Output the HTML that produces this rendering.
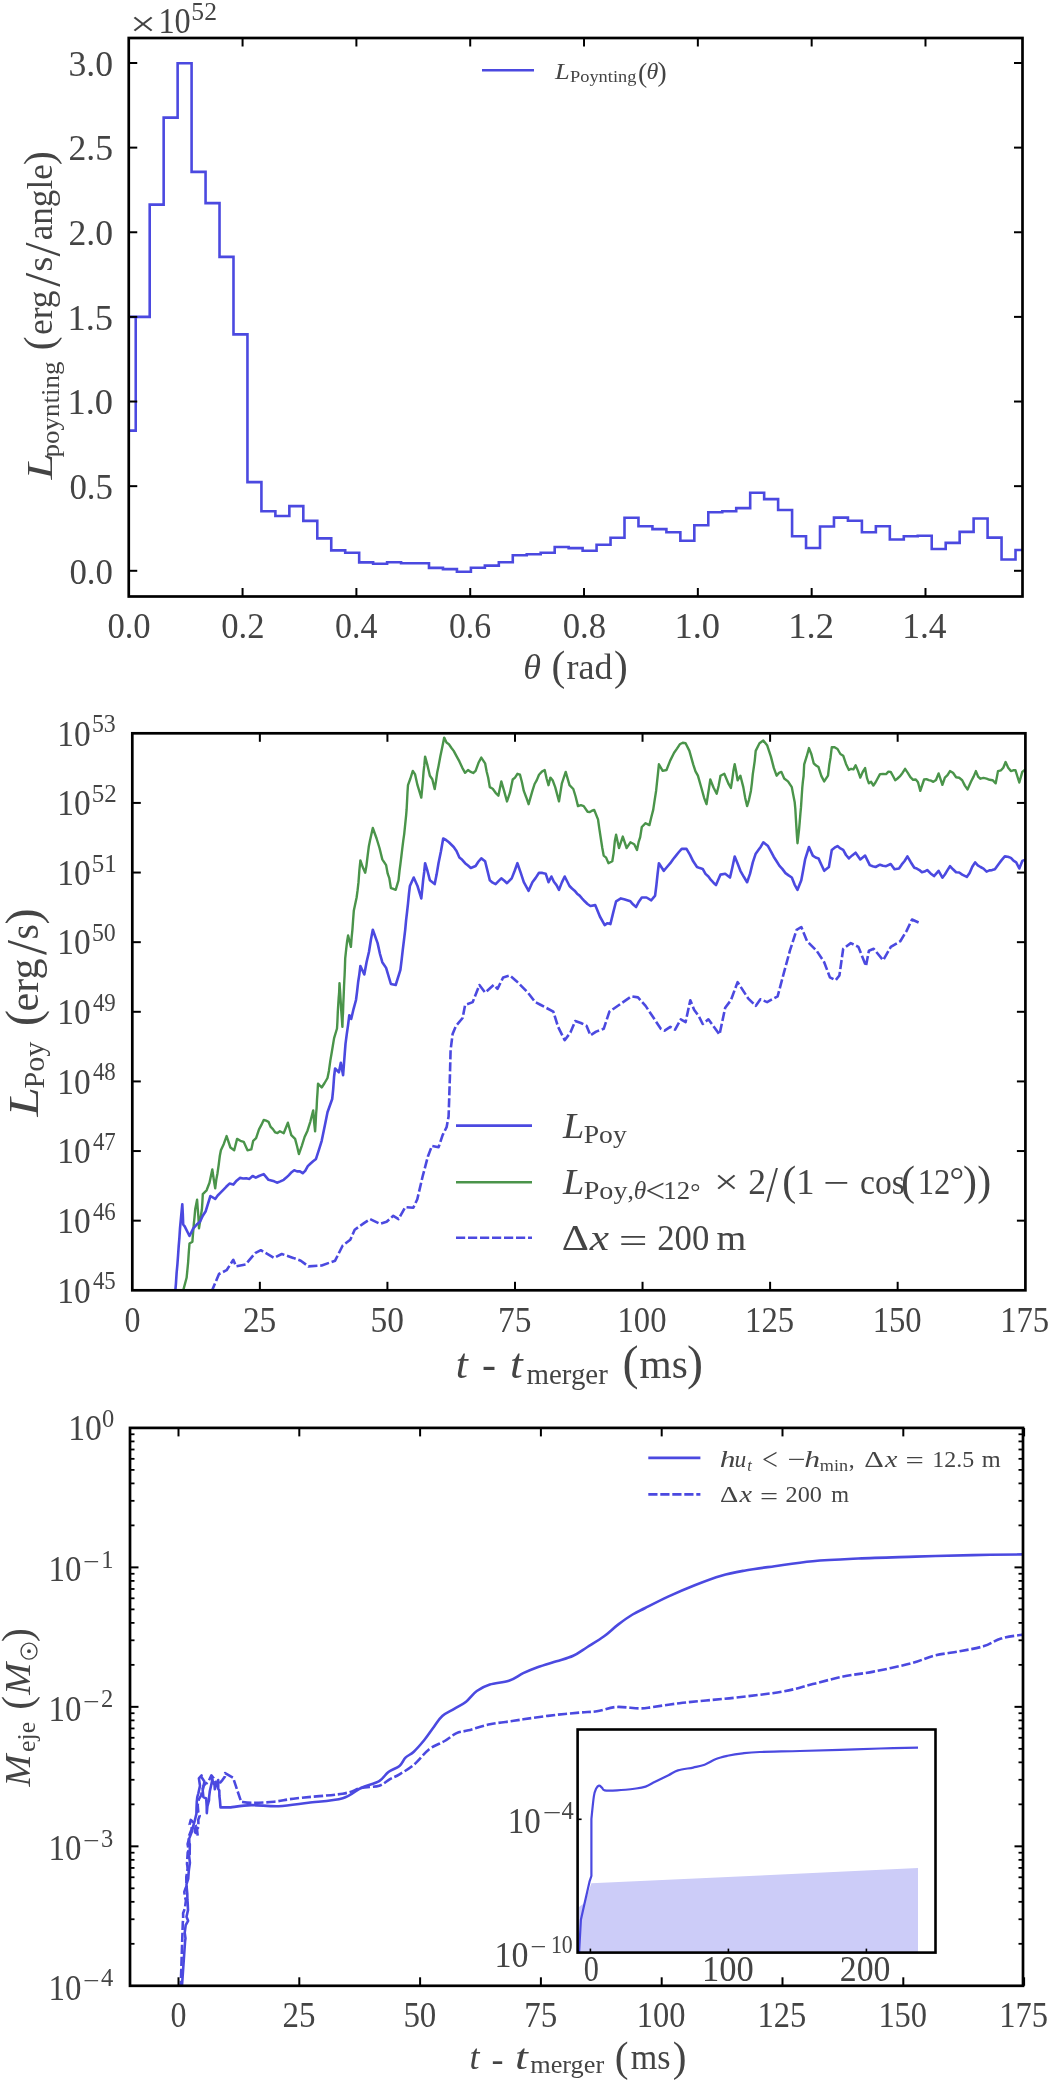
<!DOCTYPE html>
<html><head><meta charset="utf-8"><style>
html,body{margin:0;padding:0;background:#fff;overflow:hidden;width:1051px;height:2082px;}
svg{display:block;font-family:"Liberation Serif", serif;filter:blur(0.5px);}
</style></head><body>
<svg width="1051" height="2082" viewBox="0 0 1051 2082">
<rect width="1051" height="2082" fill="#fff"/>
<clipPath id="c1"><rect x="128.75" y="38.0" width="893.75" height="558.5"/></clipPath>
<path d="M126.75,430.6 H135.73 V316.9 H149.70 V204.6 H163.66 V117.6 H177.63 V63.2 H191.59 V171.9 H205.56 V203.1 H219.52 V256.9 H233.49 V334.4 H247.45 V482.1 H261.42 V511.2 H275.38 V516.0 H289.35 V506.1 H303.31 V520.9 H317.28 V538.4 H331.24 V550.4 H345.21 V552.7 H359.17 V562.4 H373.13 V563.7 H387.10 V562.2 H401.06 V563.2 H415.03 V563.3 H428.99 V567.9 H442.96 V569.1 H456.92 V571.7 H470.89 V567.7 H484.85 V565.6 H498.82 V562.2 H512.78 V555.2 H526.75 V554.2 H540.71 V552.7 H554.68 V547.0 H568.64 V548.1 H582.61 V550.8 H596.57 V544.7 H610.54 V537.7 H624.50 V517.7 H638.47 V526.2 H652.43 V529.1 H666.40 V532.3 H680.36 V540.8 H694.33 V525.2 H708.29 V512.2 H722.26 V511.3 H736.22 V508.1 H750.19 V492.8 H764.15 V499.1 H778.12 V510.0 H792.08 V536.2 H806.04 V548.0 H820.01 V526.5 H833.97 V517.6 H847.94 V520.8 H861.90 V532.2 H875.87 V526.2 H889.83 V539.5 H903.80 V536.2 H917.76 V535.7 H931.73 V549.0 H945.69 V542.9 H959.66 V531.9 H973.62 V518.5 H987.59 V537.6 H1001.55 V559.5 H1015.52 V550.0 H1024.50 M126.75,316.9 H135.73" fill="none" stroke="#4b49e0" stroke-width="2.6" clip-path="url(#c1)"/>
<rect x="128.75" y="38.00" width="893.75" height="558.50" fill="none" stroke="#000" stroke-width="2.7"/>
<line x1="128.75" y1="570.80" x2="137.25" y2="570.80" stroke="#000" stroke-width="2.0"/>
<line x1="1014.00" y1="570.80" x2="1022.50" y2="570.80" stroke="#000" stroke-width="2.0"/>
<line x1="128.75" y1="486.16" x2="137.25" y2="486.16" stroke="#000" stroke-width="2.0"/>
<line x1="1014.00" y1="486.16" x2="1022.50" y2="486.16" stroke="#000" stroke-width="2.0"/>
<line x1="128.75" y1="401.53" x2="137.25" y2="401.53" stroke="#000" stroke-width="2.0"/>
<line x1="1014.00" y1="401.53" x2="1022.50" y2="401.53" stroke="#000" stroke-width="2.0"/>
<line x1="128.75" y1="316.89" x2="137.25" y2="316.89" stroke="#000" stroke-width="2.0"/>
<line x1="1014.00" y1="316.89" x2="1022.50" y2="316.89" stroke="#000" stroke-width="2.0"/>
<line x1="128.75" y1="232.26" x2="137.25" y2="232.26" stroke="#000" stroke-width="2.0"/>
<line x1="1014.00" y1="232.26" x2="1022.50" y2="232.26" stroke="#000" stroke-width="2.0"/>
<line x1="128.75" y1="147.62" x2="137.25" y2="147.62" stroke="#000" stroke-width="2.0"/>
<line x1="1014.00" y1="147.62" x2="1022.50" y2="147.62" stroke="#000" stroke-width="2.0"/>
<line x1="128.75" y1="62.99" x2="137.25" y2="62.99" stroke="#000" stroke-width="2.0"/>
<line x1="1014.00" y1="62.99" x2="1022.50" y2="62.99" stroke="#000" stroke-width="2.0"/>
<line x1="242.57" y1="596.50" x2="242.57" y2="588.00" stroke="#000" stroke-width="2.0"/>
<line x1="242.57" y1="38.00" x2="242.57" y2="46.50" stroke="#000" stroke-width="2.0"/>
<line x1="356.39" y1="596.50" x2="356.39" y2="588.00" stroke="#000" stroke-width="2.0"/>
<line x1="356.39" y1="38.00" x2="356.39" y2="46.50" stroke="#000" stroke-width="2.0"/>
<line x1="470.21" y1="596.50" x2="470.21" y2="588.00" stroke="#000" stroke-width="2.0"/>
<line x1="470.21" y1="38.00" x2="470.21" y2="46.50" stroke="#000" stroke-width="2.0"/>
<line x1="584.03" y1="596.50" x2="584.03" y2="588.00" stroke="#000" stroke-width="2.0"/>
<line x1="584.03" y1="38.00" x2="584.03" y2="46.50" stroke="#000" stroke-width="2.0"/>
<line x1="697.85" y1="596.50" x2="697.85" y2="588.00" stroke="#000" stroke-width="2.0"/>
<line x1="697.85" y1="38.00" x2="697.85" y2="46.50" stroke="#000" stroke-width="2.0"/>
<line x1="811.67" y1="596.50" x2="811.67" y2="588.00" stroke="#000" stroke-width="2.0"/>
<line x1="811.67" y1="38.00" x2="811.67" y2="46.50" stroke="#000" stroke-width="2.0"/>
<line x1="925.49" y1="596.50" x2="925.49" y2="588.00" stroke="#000" stroke-width="2.0"/>
<line x1="925.49" y1="38.00" x2="925.49" y2="46.50" stroke="#000" stroke-width="2.0"/>
<line x1="482" y1="70.3" x2="534" y2="70.3" stroke="#4b49e0" stroke-width="2.6"/>
<clipPath id="c2"><rect x="132.3" y="733.3" width="893.1000000000001" height="557.0"/></clipPath>
<path d="M182.8,1292.0 L186.6,1277.8 L187.3,1270.9 L188.1,1262.6 L188.8,1252.2 L189.5,1243.6 L192.4,1241.7 L193.1,1232.6 L193.8,1224.1 L194.5,1217.4 L195.2,1209.3 L197.1,1199.8 L197.7,1208.0 L198.4,1217.0 L199.0,1228.4 L200.4,1219.1 L201.9,1209.3 L202.4,1201.9 L202.8,1194.1 L206.6,1190.3 L209.5,1182.7 L212.3,1169.4 L213.8,1179.6 L215.2,1188.4 L216.3,1179.6 L217.5,1173.2 L218.6,1165.5 L219.8,1156.0 L220.9,1150.3 L223.8,1143.9 L226.6,1136.1 L230.4,1147.5 L234.2,1150.3 L237.1,1138.9 L240.4,1140.8 L243.7,1141.8 L247.5,1150.3 L251.3,1149.4 L253.2,1140.8 L256.1,1138.2 L259.0,1129.4 L261.4,1124.9 L263.7,1119.9 L266.1,1120.7 L268.5,1121.8 L270.7,1126.9 L272.9,1129.1 L275.1,1132.3 L277.5,1133.0 L279.9,1131.3 L283.7,1133.2 L287.9,1122.7 L291.3,1135.1 L295.1,1138.9 L297.0,1146.0 L298.9,1154.1 L301.8,1145.8 L304.6,1137.0 L307.5,1130.7 L310.3,1121.8 L313.2,1110.4 L314.1,1121.8 L315.1,1131.3 L315.6,1123.5 L316.1,1114.0 L316.6,1108.1 L317.0,1099.7 L317.5,1092.6 L318.0,1083.7 L321.7,1087.5 L324.6,1083.0 L327.5,1078.0 L328.9,1070.9 L330.3,1060.9 L331.6,1053.2 L332.8,1046.0 L334.1,1038.1 L337.0,1028.5 L337.4,1021.8 L337.8,1012.0 L338.2,1005.3 L338.7,997.6 L339.1,993.2 L339.5,983.1 L340.1,991.7 L340.7,1001.5 L341.2,1010.2 L341.8,1017.8 L342.4,1026.9 L342.7,1017.3 L343.0,1012.9 L343.3,1003.5 L343.6,997.4 L344.0,987.1 L344.3,980.7 L344.6,975.3 L344.9,967.9 L345.2,958.4 L346.2,949.1 L347.1,941.4 L348.1,935.5 L350.9,946.9 L351.6,937.8 L352.4,929.8 L353.1,920.0 L353.8,910.8 L356.6,897.5 L357.6,890.2 L358.5,882.2 L359.4,870.0 L360.4,860.4 L362.8,867.3 L365.2,872.7 L366.4,866.1 L367.6,856.0 L368.8,846.6 L370.0,840.4 L372.8,828.0 L376.6,838.5 L379.5,848.0 L382.3,859.4 L386.1,865.1 L387.7,873.7 L389.3,878.1 L390.9,888.0 L393.3,888.8 L395.7,889.8 L398.5,880.3 L399.5,871.0 L400.4,864.2 L401.4,856.0 L402.3,848.4 L403.3,840.4 L404.2,834.1 L405.2,824.4 L406.1,815.6 L406.6,809.7 L407.1,800.2 L407.5,792.2 L408.0,785.2 L410.4,778.5 L412.8,770.9 L415.1,774.4 L417.5,785.2 L421.3,797.6 L422.1,789.3 L422.8,781.4 L423.6,771.4 L424.3,765.4 L425.1,756.6 L427.5,765.4 L429.9,775.7 L432.3,779.2 L434.7,789.0 L436.0,781.1 L437.2,772.5 L438.5,766.2 L440.4,756.0 L442.3,746.9 L444.2,737.6 L446.5,742.6 L448.9,744.3 L451.3,747.7 L453.7,750.9 L456.5,756.1 L459.4,761.4 L462.2,767.6 L465.1,772.8 L468.0,770.0 L470.8,771.9 L473.2,773.0 L475.6,770.9 L478.5,762.8 L481.3,757.6 L485.1,763.3 L486.7,771.8 L488.2,777.7 L489.8,787.1 L492.7,788.7 L495.6,792.8 L498.4,795.7 L501.3,781.4 L504.1,790.9 L507.0,801.4 L509.9,792.9 L512.7,779.5 L515.0,777.6 L517.4,773.8 L520.0,774.7 L521.9,782.0 L523.8,790.9 L526.2,797.2 L528.6,804.2 L532.4,790.9 L534.6,784.0 L536.8,780.1 L539.0,774.7 L541.9,771.6 L544.7,770.0 L546.6,778.5 L548.5,785.2 L550.4,777.6 L552.8,780.6 L555.2,787.1 L559.0,801.4 L560.5,791.9 L561.9,783.3 L565.7,771.9 L569.5,785.2 L573.3,789.0 L575.6,796.5 L578.0,806.1 L580.9,805.2 L583.7,806.1 L587.6,811.8 L589.8,812.1 L592.0,810.7 L594.2,809.9 L598.0,819.4 L599.4,829.2 L600.9,839.0 L602.3,848.0 L603.7,855.6 L606.1,857.6 L608.5,863.2 L612.3,861.3 L613.6,853.1 L614.8,841.3 L616.1,834.7 L619.0,848.0 L622.8,836.6 L626.6,848.0 L630.4,842.3 L634.2,844.2 L637.0,849.9 L638.6,842.2 L640.2,837.1 L641.8,827.0 L645.6,823.2 L649.4,825.1 L651.3,817.2 L653.2,809.9 L654.7,799.9 L656.1,790.9 L657.0,782.3 L658.0,773.2 L658.9,764.3 L662.7,770.9 L666.5,770.0 L670.3,760.4 L674.1,752.8 L677.0,748.6 L679.8,744.3 L682.7,742.8 L685.6,743.3 L689.4,750.9 L693.2,764.3 L695.5,771.4 L697.9,775.7 L701.7,789.0 L704.1,797.8 L706.5,804.2 L707.8,795.7 L709.0,788.1 L710.3,779.5 L713.5,787.5 L716.7,793.7 L718.6,786.0 L720.5,775.7 L724.3,773.8 L726.5,779.0 L728.7,784.2 L730.9,788.0 L732.2,779.8 L733.4,770.8 L734.7,764.3 L736.2,771.7 L737.6,780.4 L740.4,775.7 L743.3,787.1 L745.2,797.9 L747.1,806.1 L749.0,799.8 L750.9,790.9 L751.9,783.1 L752.8,774.2 L753.8,767.3 L754.7,761.1 L755.7,750.9 L759.5,743.3 L763.3,740.5 L767.1,745.2 L770.9,756.6 L773.8,767.9 L776.6,775.7 L779.0,772.9 L781.4,771.9 L784.2,778.5 L788.0,781.4 L791.8,787.1 L793.2,794.6 L794.7,802.3 L795.3,808.6 L795.8,817.2 L796.4,827.1 L796.9,835.1 L797.5,843.2 L798.2,837.1 L799.0,830.1 L799.7,822.2 L800.4,813.7 L801.0,807.2 L801.7,796.5 L802.3,787.5 L802.9,781.4 L803.6,776.0 L804.2,764.3 L806.6,756.7 L809.0,748.1 L811.4,754.2 L813.7,763.3 L816.1,765.5 L818.5,767.1 L821.4,776.1 L824.2,781.4 L828.0,775.7 L829.3,764.8 L830.5,757.7 L831.8,747.1 L834.6,747.3 L837.5,749.0 L840.4,754.0 L843.2,755.7 L846.0,763.9 L848.9,770.0 L851.1,768.8 L853.4,769.4 L855.6,765.2 L858.0,770.9 L860.3,777.6 L862.7,772.0 L865.1,768.1 L867.0,778.1 L868.9,783.3 L871.1,781.8 L873.4,785.5 L875.6,782.3 L880.0,774.1 L883.0,774.0 L886.1,774.1 L888.4,771.7 L890.7,771.9 L893.0,776.0 L895.2,780.2 L897.5,778.5 L899.8,776.4 L902.5,772.9 L905.1,768.8 L907.8,772.8 L910.4,777.2 L913.1,779.8 L915.8,779.5 L918.0,782.2 L920.3,790.9 L924.1,779.5 L926.4,779.1 L928.7,780.2 L931.0,780.7 L933.3,781.8 L936.0,780.0 L938.6,773.4 L942.4,784.8 L944.9,777.6 L947.5,775.2 L950.0,771.1 L953.0,772.7 L956.1,777.2 L959.2,777.8 L962.2,780.2 L964.9,785.6 L967.5,789.4 L971.3,781.0 L973.6,776.6 L975.9,771.1 L978.2,776.8 L980.5,778.7 L983.5,777.9 L986.6,778.7 L989.6,779.8 L992.6,780.2 L995.7,783.3 L998.0,771.1 L1001.0,770.3 L1003.3,767.7 L1005.6,762.0 L1008.2,767.7 L1010.9,771.1 L1013.2,770.3 L1015.5,770.3 L1019.3,782.5 L1022.3,771.9 L1026.0,768.8" fill="none" stroke="#4a944a" stroke-width="2.4" stroke-linejoin="round" clip-path="url(#c2)"/>
<path d="M175.2,1292.0 L175.9,1284.2 L176.6,1273.1 L177.4,1264.5 L178.1,1255.0 L178.7,1246.2 L179.4,1237.8 L180.0,1228.4 L181.2,1215.5 L182.3,1204.2 L182.8,1214.1 L183.2,1224.5 L184.7,1226.4 L189.5,1236.0 L193.3,1228.4 L196.7,1224.6 L200.0,1221.7 L202.8,1215.8 L205.7,1211.2 L210.4,1196.0 L215.2,1198.9 L217.7,1195.5 L220.3,1192.9 L222.8,1190.3 L226.2,1186.8 L229.5,1183.6 L233.3,1184.6 L236.6,1180.7 L239.9,1177.9 L243.1,1178.5 L246.2,1178.2 L249.4,1178.9 L252.6,1176.0 L255.8,1177.7 L259.0,1176.0 L263.7,1174.1 L268.5,1179.8 L271.3,1180.5 L274.2,1181.3 L277.0,1182.7 L280.4,1181.4 L283.7,1179.8 L286.3,1177.6 L288.9,1175.1 L291.6,1172.2 L294.2,1170.3 L297.0,1171.4 L299.9,1171.3 L302.7,1173.2 L305.2,1170.9 L307.8,1166.1 L310.3,1163.7 L313.1,1161.2 L316.0,1158.9 L318.9,1149.9 L321.7,1140.8 L323.6,1131.4 L325.6,1121.7 L327.5,1112.3 L332.2,1099.0 L333.2,1089.1 L334.1,1076.5 L335.1,1068.5 L338.9,1072.3 L340.8,1062.8 L343.1,1075.2 L343.9,1064.6 L344.7,1054.1 L345.5,1043.8 L346.8,1033.9 L348.0,1025.6 L349.3,1015.2 L351.2,1019.0 L353.6,1008.8 L356.0,1000.0 L357.1,991.4 L358.2,981.7 L359.3,974.6 L360.4,966.0 L364.3,974.5 L366.6,962.0 L369.0,951.7 L370.9,939.7 L372.8,929.8 L377.6,943.1 L380.0,954.0 L382.3,962.2 L386.1,967.9 L390.9,984.0 L395.7,985.0 L400.4,969.8 L401.6,960.1 L402.8,949.7 L404.0,939.8 L405.2,929.8 L406.1,920.1 L407.1,911.6 L408.0,903.7 L409.0,893.4 L409.9,886.0 L413.7,877.5 L417.5,886.0 L421.3,898.4 L422.2,889.7 L423.2,879.7 L424.2,872.0 L425.1,863.2 L427.5,871.0 L429.9,880.3 L434.7,884.1 L436.6,874.6 L438.5,863.2 L440.9,851.4 L443.2,838.5 L446.0,840.0 L448.9,842.3 L453.7,847.0 L456.5,851.0 L459.4,857.5 L462.2,859.8 L465.1,863.2 L468.0,865.5 L470.8,868.0 L475.6,866.0 L478.5,861.5 L481.3,858.4 L485.1,861.3 L487.5,870.9 L489.8,880.3 L492.7,882.7 L495.6,884.1 L498.5,881.1 L501.3,878.4 L504.1,880.5 L507.0,883.2 L511.7,878.4 L514.5,871.2 L517.4,863.2 L520.6,872.4 L523.8,882.2 L528.6,890.8 L532.4,882.2 L535.7,877.9 L539.0,872.7 L542.4,872.9 L545.7,873.7 L548.5,882.2 L551.4,876.5 L553.9,881.8 L556.5,885.1 L559.0,889.8 L561.9,882.4 L564.7,876.5 L569.5,886.0 L572.0,888.5 L574.6,890.7 L577.1,893.7 L579.6,895.6 L582.2,898.6 L584.7,901.3 L587.5,904.0 L590.4,906.0 L595.2,905.1 L599.9,916.5 L604.7,925.1 L607.5,923.2 L610.4,924.1 L613.2,912.6 L616.1,901.3 L620.9,898.4 L624.1,899.2 L627.2,900.2 L630.4,901.3 L633.2,904.6 L636.1,907.0 L639.0,901.4 L641.8,897.5 L646.5,897.5 L651.3,900.3 L655.1,895.6 L656.4,885.1 L657.6,873.8 L658.9,863.2 L663.7,870.8 L667.0,867.0 L670.3,863.2 L673.1,859.2 L676.0,855.6 L678.9,852.0 L681.7,848.9 L686.5,848.9 L689.9,854.7 L693.2,861.3 L697.0,867.0 L699.9,868.1 L702.7,868.9 L705.5,873.9 L708.4,876.5 L710.9,879.9 L713.5,882.7 L716.0,885.1 L720.5,874.6 L725.2,873.7 L730.0,877.5 L732.4,867.3 L734.7,856.5 L737.5,863.3 L740.4,870.8 L743.8,876.8 L747.1,882.2 L750.0,873.9 L752.8,862.4 L755.7,853.7 L758.2,850.3 L760.8,846.7 L763.3,842.3 L768.0,846.1 L770.9,851.3 L773.7,856.7 L776.6,861.3 L779.5,865.9 L782.3,868.9 L785.5,873.1 L788.6,875.4 L791.8,877.5 L794.6,884.6 L797.5,889.8 L801.3,880.3 L803.2,870.0 L805.1,859.4 L809.0,847.0 L812.8,855.6 L815.6,857.5 L818.5,858.4 L821.4,864.7 L824.2,870.8 L828.9,867.0 L830.3,858.6 L831.8,849.9 L834.6,847.7 L837.5,846.1 L840.4,848.4 L843.2,849.9 L846.0,855.0 L848.9,858.4 L852.2,855.4 L855.6,852.7 L860.3,859.4 L865.1,855.6 L869.8,865.1 L872.7,866.2 L875.6,867.0 L880.0,864.7 L883.0,865.8 L886.1,866.2 L890.7,864.0 L894.5,869.3 L899.0,868.5 L901.8,864.4 L904.6,861.0 L907.4,856.4 L910.8,862.2 L914.3,867.8 L916.8,868.6 L919.4,870.1 L921.9,872.3 L924.5,871.6 L927.2,870.0 L930.6,873.4 L934.0,876.1 L938.6,870.8 L942.4,877.7 L944.9,874.5 L947.5,870.2 L950.0,866.2 L953.0,869.3 L956.1,872.3 L959.2,872.5 L962.2,874.6 L966.8,876.9 L969.6,872.9 L972.3,866.7 L975.1,862.4 L977.8,865.3 L980.5,867.0 L983.5,868.6 L986.6,871.6 L989.4,870.4 L992.1,870.1 L994.9,869.3 L998.7,864.0 L1001.8,859.9 L1004.8,856.4 L1007.8,856.7 L1010.9,857.9 L1013.5,860.7 L1016.2,862.4 L1019.3,868.5 L1022.3,860.9 L1026.0,859.4" fill="none" stroke="#4b49e0" stroke-width="2.6" stroke-linejoin="round" clip-path="url(#c2)"/>
<path d="M211.4,1292.0 L219.0,1274.0 L226.6,1270.2 L233.3,1259.8 L236.1,1266.4 L245.6,1264.5 L255.1,1253.1 L260.9,1250.2 L274.2,1257.9 L281.8,1254.0 L293.2,1257.9 L300.8,1260.7 L308.4,1266.4 L321.7,1265.5 L335.1,1260.7 L342.7,1245.5 L350.3,1239.8 L354.7,1229.8 L364.0,1223.1 L370.0,1219.1 L380.0,1223.8 L386.6,1221.8 L393.3,1215.8 L398.6,1219.1 L405.3,1207.1 L413.3,1207.8 L417.3,1199.2 L422.6,1176.5 L427.9,1156.5 L431.9,1145.9 L438.6,1147.2 L442.6,1135.2 L446.6,1127.2 L448.6,1116.6 L449.9,1076.6 L450.6,1050.0 L452.6,1034.0 L455.9,1026.0 L462.6,1018.0 L465.1,1005.0 L472.7,1002.1 L479.4,985.0 L485.1,992.6 L493.7,985.0 L497.5,988.8 L503.2,977.4 L509.8,975.5 L516.5,981.2 L527.9,992.6 L535.2,1002.1 L540.9,1005.0 L553.3,1011.6 L558.1,1026.9 L564.7,1040.2 L570.4,1032.6 L575.2,1021.1 L580.9,1023.0 L586.6,1025.9 L590.4,1035.4 L596.1,1031.6 L603.7,1028.8 L609.4,1011.6 L619.0,1005.0 L631.3,996.4 L638.0,997.4 L645.6,1005.9 L653.2,1017.3 L660.8,1028.8 L664.6,1030.7 L670.3,1026.9 L675.1,1029.7 L680.8,1019.3 L685.6,1022.1 L690.3,1000.2 L694.1,1009.7 L698.9,1016.4 L702.7,1024.0 L708.4,1019.3 L719.5,1034.5 L725.2,1007.8 L730.9,1000.2 L737.6,982.1 L748.1,998.3 L755.7,1005.9 L760.4,999.3 L767.1,1002.1 L777.6,996.4 L784.2,971.7 L789.9,950.7 L796.6,929.8 L801.3,927.0 L807.1,941.2 L816.6,950.7 L824.2,962.2 L829.9,977.4 L835.6,980.2 L839.4,975.5 L843.2,948.8 L850.8,943.1 L858.4,946.9 L862.2,956.4 L866.0,966.0 L868.9,950.7 L873.7,948.8 L883.2,960.3 L890.8,946.9 L900.3,941.2 L906.6,930.9 L912.0,919.5 L918.8,922.6" fill="none" stroke="#4b49e0" stroke-width="2.6" stroke-linejoin="round" stroke-dasharray="9.2,2.8" clip-path="url(#c2)"/>
<rect x="132.30" y="733.30" width="893.10" height="557.00" fill="none" stroke="#000" stroke-width="2.7"/>
<line x1="132.30" y1="1220.67" x2="140.80" y2="1220.67" stroke="#000" stroke-width="2.0"/>
<line x1="1016.90" y1="1220.67" x2="1025.40" y2="1220.67" stroke="#000" stroke-width="2.0"/>
<line x1="132.30" y1="1151.05" x2="140.80" y2="1151.05" stroke="#000" stroke-width="2.0"/>
<line x1="1016.90" y1="1151.05" x2="1025.40" y2="1151.05" stroke="#000" stroke-width="2.0"/>
<line x1="132.30" y1="1081.42" x2="140.80" y2="1081.42" stroke="#000" stroke-width="2.0"/>
<line x1="1016.90" y1="1081.42" x2="1025.40" y2="1081.42" stroke="#000" stroke-width="2.0"/>
<line x1="132.30" y1="1011.80" x2="140.80" y2="1011.80" stroke="#000" stroke-width="2.0"/>
<line x1="1016.90" y1="1011.80" x2="1025.40" y2="1011.80" stroke="#000" stroke-width="2.0"/>
<line x1="132.30" y1="942.17" x2="140.80" y2="942.17" stroke="#000" stroke-width="2.0"/>
<line x1="1016.90" y1="942.17" x2="1025.40" y2="942.17" stroke="#000" stroke-width="2.0"/>
<line x1="132.30" y1="872.55" x2="140.80" y2="872.55" stroke="#000" stroke-width="2.0"/>
<line x1="1016.90" y1="872.55" x2="1025.40" y2="872.55" stroke="#000" stroke-width="2.0"/>
<line x1="132.30" y1="802.92" x2="140.80" y2="802.92" stroke="#000" stroke-width="2.0"/>
<line x1="1016.90" y1="802.92" x2="1025.40" y2="802.92" stroke="#000" stroke-width="2.0"/>
<line x1="259.86" y1="1290.30" x2="259.86" y2="1281.80" stroke="#000" stroke-width="2.0"/>
<line x1="259.86" y1="733.30" x2="259.86" y2="741.80" stroke="#000" stroke-width="2.0"/>
<line x1="387.42" y1="1290.30" x2="387.42" y2="1281.80" stroke="#000" stroke-width="2.0"/>
<line x1="387.42" y1="733.30" x2="387.42" y2="741.80" stroke="#000" stroke-width="2.0"/>
<line x1="514.98" y1="1290.30" x2="514.98" y2="1281.80" stroke="#000" stroke-width="2.0"/>
<line x1="514.98" y1="733.30" x2="514.98" y2="741.80" stroke="#000" stroke-width="2.0"/>
<line x1="642.54" y1="1290.30" x2="642.54" y2="1281.80" stroke="#000" stroke-width="2.0"/>
<line x1="642.54" y1="733.30" x2="642.54" y2="741.80" stroke="#000" stroke-width="2.0"/>
<line x1="770.10" y1="1290.30" x2="770.10" y2="1281.80" stroke="#000" stroke-width="2.0"/>
<line x1="770.10" y1="733.30" x2="770.10" y2="741.80" stroke="#000" stroke-width="2.0"/>
<line x1="897.66" y1="1290.30" x2="897.66" y2="1281.80" stroke="#000" stroke-width="2.0"/>
<line x1="897.66" y1="733.30" x2="897.66" y2="741.80" stroke="#000" stroke-width="2.0"/>
<line x1="456" y1="1125.6" x2="532" y2="1125.6" stroke="#4b49e0" stroke-width="2.6"/>
<line x1="456" y1="1182.3" x2="532" y2="1182.3" stroke="#4a944a" stroke-width="2.6"/>
<line x1="456" y1="1237.7" x2="532" y2="1237.7" stroke="#4b49e0" stroke-width="2.6" stroke-dasharray="9.2,2.8"/>
<clipPath id="c3"><rect x="130.0" y="1427.9" width="893.0" height="557.8999999999999"/></clipPath>
<path d="M181.7,1990.0 L185.1,1941.0 L185.5,1938.4 L184.7,1932.7 L185.7,1925.1 L188.1,1920.8 L186.5,1916.8 L188.0,1910.1 L187.7,1903.1 L187.4,1899.9 L187.3,1893.9 L186.6,1886.7 L186.5,1884.2 L188.2,1878.9 L188.7,1871.8 L188.9,1869.9 L189.9,1862.7 L189.0,1855.2 L189.7,1854.2 L189.8,1844.1 L189.4,1845.0 L189.2,1838.6 L192.0,1831.3 L193.5,1825.0 L194.7,1821.0 L196.4,1813.7 L196.5,1808.5 L196.8,1801.6 L197.3,1797.0 L198.3,1793.5 L200.0,1785.7 L198.9,1778.4 L201.6,1775.4 L201.1,1776.6 L204.4,1781.4 L202.7,1790.6 L203.4,1797.1 L206.2,1798.5 L206.7,1806.3 L206.8,1813.1 L207.4,1806.4 L209.0,1800.2 L209.1,1797.1 L209.8,1791.3 L212.5,1779.4 L211.4,1777.7 L214.6,1785.3 L214.8,1789.1 L216.0,1785.2 L218.2,1780.0 L218.2,1788.8 L219.3,1790.5 L219.4,1796.0 L219.9,1800.2 L220.5,1807.4 L230.8,1807.4 C234.2,1807.0 243.3,1805.3 251.3,1805.1 C259.3,1804.9 269.2,1806.6 278.7,1806.2 C288.2,1805.8 297.7,1804.1 308.4,1802.8 C319.1,1801.5 333.9,1800.7 342.7,1798.2 C351.5,1795.7 354.9,1790.8 361.0,1788.0 C367.1,1785.2 374.6,1783.8 379.2,1781.1 C383.8,1778.4 385.0,1774.5 388.4,1772.0 C391.8,1769.5 396.6,1768.4 399.5,1766.0 C402.4,1763.6 403.1,1760.1 405.5,1757.7 C407.9,1755.3 410.6,1754.7 413.8,1751.7 C417.0,1748.7 421.1,1744.0 424.5,1739.8 C427.9,1735.6 431.0,1730.7 434.0,1726.7 C437.0,1722.7 438.9,1719.0 442.3,1716.0 C445.7,1713.0 450.2,1711.3 454.2,1708.9 C458.2,1706.5 462.3,1704.7 466.1,1701.7 C469.9,1698.7 472.8,1693.8 476.8,1691.0 C480.8,1688.2 484.5,1686.3 489.9,1684.6 C495.2,1682.9 503.3,1682.7 508.9,1680.8 C514.5,1678.9 518.4,1675.5 523.2,1673.2 C528.0,1671.0 532.0,1669.3 537.5,1667.3 C543.0,1665.3 550.5,1663.2 556.5,1661.3 C562.5,1659.4 568.1,1658.2 573.2,1655.8 C578.4,1653.4 582.2,1650.2 587.4,1647.0 C592.5,1643.8 598.9,1640.1 604.1,1636.3 C609.3,1632.5 613.6,1628.0 618.4,1624.4 C623.1,1620.8 628.1,1617.2 632.6,1614.5 C637.1,1611.8 639.3,1611.0 645.2,1608.0 C651.1,1605.0 659.9,1600.4 668.1,1596.6 C676.4,1592.8 685.8,1588.7 694.7,1585.2 C703.6,1581.7 713.0,1578.1 721.3,1575.7 C729.5,1573.3 735.3,1572.3 744.2,1570.7 C753.1,1569.1 763.2,1567.8 774.6,1566.2 C786.0,1564.6 798.7,1562.5 812.7,1561.2 C826.7,1559.9 841.3,1559.3 858.4,1558.5 C875.5,1557.7 896.4,1557.2 915.4,1556.6 C934.4,1556.0 954.2,1555.5 972.5,1555.1 C990.8,1554.7 1016.2,1554.5 1025.0,1554.4" fill="none" stroke="#4b49e0" stroke-width="2.6" stroke-linejoin="round" clip-path="url(#c3)"/>
<path d="M180.6,1990.0 L182.8,1922.7 L183.2,1918.6 L183.1,1913.2 L184.9,1908.3 L185.9,1900.6 L184.8,1895.9 L184.3,1891.9 L185.7,1888.0 L186.4,1886.5 L186.3,1877.0 L187.6,1868.6 L187.3,1865.4 L187.0,1864.0 L187.7,1852.3 L188.7,1850.5 L187.6,1844.0 L188.5,1840.6 L189.1,1835.6 L191.8,1828.7 L189.6,1824.6 L190.8,1819.9 L193.6,1822.5 L195.7,1825.3 L194.9,1831.8 L197.7,1835.9 L197.0,1829.4 L198.5,1826.9 L198.3,1819.7 L199.7,1815.8 L198.3,1812.3 L197.7,1804.9 L198.8,1799.4 L201.2,1795.4 L201.7,1792.1 L203.4,1786.2 L205.7,1783.4 L206.6,1783.3 L209.0,1780.4 L211.4,1775.4 L213.7,1778.3 L215.9,1782.8 L217.1,1785.7 L218.8,1780.4 L220.4,1782.4 L222.4,1780.1 L225.0,1776.4 L225.1,1773.1 L233.1,1777.7 L241.1,1801.7 C242.8,1801.9 245.8,1802.8 251.3,1802.8 C256.8,1802.8 266.6,1802.5 274.2,1801.7 C281.8,1800.9 285.6,1799.5 297.0,1798.2 C308.4,1796.9 332.0,1795.4 342.7,1793.7 C353.4,1792.0 354.9,1789.3 361.0,1788.0 C367.1,1786.7 374.4,1787.2 379.2,1785.7 C384.0,1784.2 386.6,1781.0 390.0,1779.1 C393.4,1777.2 395.5,1776.7 399.5,1774.3 C403.5,1771.9 408.9,1769.0 413.8,1764.8 C418.8,1760.6 424.1,1753.3 429.2,1749.3 C434.3,1745.3 440.1,1743.7 444.7,1741.0 C449.3,1738.3 452.6,1734.9 456.6,1733.1 C460.6,1731.3 462.9,1731.8 468.5,1730.3 C474.1,1728.8 482.4,1725.9 489.9,1724.3 C497.4,1722.7 506.6,1721.9 513.7,1720.8 C520.8,1719.7 525.6,1718.9 532.7,1717.9 C539.8,1716.9 548.6,1715.7 556.5,1714.8 C564.4,1713.9 573.6,1713.1 580.3,1712.5 C587.0,1711.9 590.9,1712.2 596.9,1711.3 C602.9,1710.4 608.9,1707.5 616.0,1707.0 C623.1,1706.5 633.7,1708.4 639.8,1708.4 C645.9,1708.4 646.2,1707.9 652.8,1707.0 C659.4,1706.1 670.6,1704.3 679.5,1703.2 C688.4,1702.1 696.6,1701.5 706.1,1700.5 C715.6,1699.5 723.9,1699.0 736.6,1697.5 C749.3,1696.0 769.5,1693.9 782.2,1691.7 C794.9,1689.5 802.6,1686.6 812.7,1684.1 C822.9,1681.6 833.0,1678.6 843.1,1676.5 C853.2,1674.4 862.2,1673.8 873.6,1671.6 C885.0,1669.4 901.5,1665.9 911.6,1663.2 C921.8,1660.5 926.2,1657.6 934.5,1655.6 C942.8,1653.6 952.9,1652.6 961.1,1651.0 C969.4,1649.4 977.3,1648.2 984.0,1646.1 C990.7,1644.0 994.3,1640.5 1001.1,1638.5 C1007.9,1636.5 1021.0,1635.0 1025.0,1634.3" fill="none" stroke="#4b49e0" stroke-width="2.6" stroke-linejoin="round" stroke-dasharray="9.2,2.8" clip-path="url(#c3)"/>
<rect x="130.00" y="1427.90" width="893.00" height="557.90" fill="none" stroke="#000" stroke-width="2.7"/>
<line x1="130.00" y1="1525.39" x2="134.50" y2="1525.39" stroke="#000" stroke-width="1.8"/>
<line x1="1018.50" y1="1525.39" x2="1023.00" y2="1525.39" stroke="#000" stroke-width="1.8"/>
<line x1="130.00" y1="1500.83" x2="134.50" y2="1500.83" stroke="#000" stroke-width="1.8"/>
<line x1="1018.50" y1="1500.83" x2="1023.00" y2="1500.83" stroke="#000" stroke-width="1.8"/>
<line x1="130.00" y1="1483.40" x2="134.50" y2="1483.40" stroke="#000" stroke-width="1.8"/>
<line x1="1018.50" y1="1483.40" x2="1023.00" y2="1483.40" stroke="#000" stroke-width="1.8"/>
<line x1="130.00" y1="1469.89" x2="134.50" y2="1469.89" stroke="#000" stroke-width="1.8"/>
<line x1="1018.50" y1="1469.89" x2="1023.00" y2="1469.89" stroke="#000" stroke-width="1.8"/>
<line x1="130.00" y1="1458.84" x2="134.50" y2="1458.84" stroke="#000" stroke-width="1.8"/>
<line x1="1018.50" y1="1458.84" x2="1023.00" y2="1458.84" stroke="#000" stroke-width="1.8"/>
<line x1="130.00" y1="1449.50" x2="134.50" y2="1449.50" stroke="#000" stroke-width="1.8"/>
<line x1="1018.50" y1="1449.50" x2="1023.00" y2="1449.50" stroke="#000" stroke-width="1.8"/>
<line x1="130.00" y1="1441.42" x2="134.50" y2="1441.42" stroke="#000" stroke-width="1.8"/>
<line x1="1018.50" y1="1441.42" x2="1023.00" y2="1441.42" stroke="#000" stroke-width="1.8"/>
<line x1="130.00" y1="1434.28" x2="134.50" y2="1434.28" stroke="#000" stroke-width="1.8"/>
<line x1="1018.50" y1="1434.28" x2="1023.00" y2="1434.28" stroke="#000" stroke-width="1.8"/>
<line x1="130.00" y1="1567.38" x2="138.50" y2="1567.38" stroke="#000" stroke-width="2.0"/>
<line x1="1014.50" y1="1567.38" x2="1023.00" y2="1567.38" stroke="#000" stroke-width="2.0"/>
<line x1="130.00" y1="1664.86" x2="134.50" y2="1664.86" stroke="#000" stroke-width="1.8"/>
<line x1="1018.50" y1="1664.86" x2="1023.00" y2="1664.86" stroke="#000" stroke-width="1.8"/>
<line x1="130.00" y1="1640.30" x2="134.50" y2="1640.30" stroke="#000" stroke-width="1.8"/>
<line x1="1018.50" y1="1640.30" x2="1023.00" y2="1640.30" stroke="#000" stroke-width="1.8"/>
<line x1="130.00" y1="1622.88" x2="134.50" y2="1622.88" stroke="#000" stroke-width="1.8"/>
<line x1="1018.50" y1="1622.88" x2="1023.00" y2="1622.88" stroke="#000" stroke-width="1.8"/>
<line x1="130.00" y1="1609.36" x2="134.50" y2="1609.36" stroke="#000" stroke-width="1.8"/>
<line x1="1018.50" y1="1609.36" x2="1023.00" y2="1609.36" stroke="#000" stroke-width="1.8"/>
<line x1="130.00" y1="1598.32" x2="134.50" y2="1598.32" stroke="#000" stroke-width="1.8"/>
<line x1="1018.50" y1="1598.32" x2="1023.00" y2="1598.32" stroke="#000" stroke-width="1.8"/>
<line x1="130.00" y1="1588.98" x2="134.50" y2="1588.98" stroke="#000" stroke-width="1.8"/>
<line x1="1018.50" y1="1588.98" x2="1023.00" y2="1588.98" stroke="#000" stroke-width="1.8"/>
<line x1="130.00" y1="1580.89" x2="134.50" y2="1580.89" stroke="#000" stroke-width="1.8"/>
<line x1="1018.50" y1="1580.89" x2="1023.00" y2="1580.89" stroke="#000" stroke-width="1.8"/>
<line x1="130.00" y1="1573.76" x2="134.50" y2="1573.76" stroke="#000" stroke-width="1.8"/>
<line x1="1018.50" y1="1573.76" x2="1023.00" y2="1573.76" stroke="#000" stroke-width="1.8"/>
<line x1="130.00" y1="1706.85" x2="138.50" y2="1706.85" stroke="#000" stroke-width="2.0"/>
<line x1="1014.50" y1="1706.85" x2="1023.00" y2="1706.85" stroke="#000" stroke-width="2.0"/>
<line x1="130.00" y1="1804.34" x2="134.50" y2="1804.34" stroke="#000" stroke-width="1.8"/>
<line x1="1018.50" y1="1804.34" x2="1023.00" y2="1804.34" stroke="#000" stroke-width="1.8"/>
<line x1="130.00" y1="1779.78" x2="134.50" y2="1779.78" stroke="#000" stroke-width="1.8"/>
<line x1="1018.50" y1="1779.78" x2="1023.00" y2="1779.78" stroke="#000" stroke-width="1.8"/>
<line x1="130.00" y1="1762.35" x2="134.50" y2="1762.35" stroke="#000" stroke-width="1.8"/>
<line x1="1018.50" y1="1762.35" x2="1023.00" y2="1762.35" stroke="#000" stroke-width="1.8"/>
<line x1="130.00" y1="1748.84" x2="134.50" y2="1748.84" stroke="#000" stroke-width="1.8"/>
<line x1="1018.50" y1="1748.84" x2="1023.00" y2="1748.84" stroke="#000" stroke-width="1.8"/>
<line x1="130.00" y1="1737.79" x2="134.50" y2="1737.79" stroke="#000" stroke-width="1.8"/>
<line x1="1018.50" y1="1737.79" x2="1023.00" y2="1737.79" stroke="#000" stroke-width="1.8"/>
<line x1="130.00" y1="1728.45" x2="134.50" y2="1728.45" stroke="#000" stroke-width="1.8"/>
<line x1="1018.50" y1="1728.45" x2="1023.00" y2="1728.45" stroke="#000" stroke-width="1.8"/>
<line x1="130.00" y1="1720.37" x2="134.50" y2="1720.37" stroke="#000" stroke-width="1.8"/>
<line x1="1018.50" y1="1720.37" x2="1023.00" y2="1720.37" stroke="#000" stroke-width="1.8"/>
<line x1="130.00" y1="1713.23" x2="134.50" y2="1713.23" stroke="#000" stroke-width="1.8"/>
<line x1="1018.50" y1="1713.23" x2="1023.00" y2="1713.23" stroke="#000" stroke-width="1.8"/>
<line x1="130.00" y1="1846.33" x2="138.50" y2="1846.33" stroke="#000" stroke-width="2.0"/>
<line x1="1014.50" y1="1846.33" x2="1023.00" y2="1846.33" stroke="#000" stroke-width="2.0"/>
<line x1="130.00" y1="1943.81" x2="134.50" y2="1943.81" stroke="#000" stroke-width="1.8"/>
<line x1="1018.50" y1="1943.81" x2="1023.00" y2="1943.81" stroke="#000" stroke-width="1.8"/>
<line x1="130.00" y1="1919.25" x2="134.50" y2="1919.25" stroke="#000" stroke-width="1.8"/>
<line x1="1018.50" y1="1919.25" x2="1023.00" y2="1919.25" stroke="#000" stroke-width="1.8"/>
<line x1="130.00" y1="1901.83" x2="134.50" y2="1901.83" stroke="#000" stroke-width="1.8"/>
<line x1="1018.50" y1="1901.83" x2="1023.00" y2="1901.83" stroke="#000" stroke-width="1.8"/>
<line x1="130.00" y1="1888.31" x2="134.50" y2="1888.31" stroke="#000" stroke-width="1.8"/>
<line x1="1018.50" y1="1888.31" x2="1023.00" y2="1888.31" stroke="#000" stroke-width="1.8"/>
<line x1="130.00" y1="1877.27" x2="134.50" y2="1877.27" stroke="#000" stroke-width="1.8"/>
<line x1="1018.50" y1="1877.27" x2="1023.00" y2="1877.27" stroke="#000" stroke-width="1.8"/>
<line x1="130.00" y1="1867.93" x2="134.50" y2="1867.93" stroke="#000" stroke-width="1.8"/>
<line x1="1018.50" y1="1867.93" x2="1023.00" y2="1867.93" stroke="#000" stroke-width="1.8"/>
<line x1="130.00" y1="1859.84" x2="134.50" y2="1859.84" stroke="#000" stroke-width="1.8"/>
<line x1="1018.50" y1="1859.84" x2="1023.00" y2="1859.84" stroke="#000" stroke-width="1.8"/>
<line x1="130.00" y1="1852.71" x2="134.50" y2="1852.71" stroke="#000" stroke-width="1.8"/>
<line x1="1018.50" y1="1852.71" x2="1023.00" y2="1852.71" stroke="#000" stroke-width="1.8"/>
<line x1="178.50" y1="1985.80" x2="178.50" y2="1977.30" stroke="#000" stroke-width="2.0"/>
<line x1="178.50" y1="1427.90" x2="178.50" y2="1436.40" stroke="#000" stroke-width="2.0"/>
<line x1="299.30" y1="1985.80" x2="299.30" y2="1977.30" stroke="#000" stroke-width="2.0"/>
<line x1="299.30" y1="1427.90" x2="299.30" y2="1436.40" stroke="#000" stroke-width="2.0"/>
<line x1="420.10" y1="1985.80" x2="420.10" y2="1977.30" stroke="#000" stroke-width="2.0"/>
<line x1="420.10" y1="1427.90" x2="420.10" y2="1436.40" stroke="#000" stroke-width="2.0"/>
<line x1="540.90" y1="1985.80" x2="540.90" y2="1977.30" stroke="#000" stroke-width="2.0"/>
<line x1="540.90" y1="1427.90" x2="540.90" y2="1436.40" stroke="#000" stroke-width="2.0"/>
<line x1="661.70" y1="1985.80" x2="661.70" y2="1977.30" stroke="#000" stroke-width="2.0"/>
<line x1="661.70" y1="1427.90" x2="661.70" y2="1436.40" stroke="#000" stroke-width="2.0"/>
<line x1="782.50" y1="1985.80" x2="782.50" y2="1977.30" stroke="#000" stroke-width="2.0"/>
<line x1="782.50" y1="1427.90" x2="782.50" y2="1436.40" stroke="#000" stroke-width="2.0"/>
<line x1="903.30" y1="1985.80" x2="903.30" y2="1977.30" stroke="#000" stroke-width="2.0"/>
<line x1="903.30" y1="1427.90" x2="903.30" y2="1436.40" stroke="#000" stroke-width="2.0"/>
<line x1="1024.10" y1="1985.80" x2="1024.10" y2="1977.30" stroke="#000" stroke-width="2.0"/>
<line x1="1024.10" y1="1427.90" x2="1024.10" y2="1436.40" stroke="#000" stroke-width="2.0"/>
<line x1="648.3" y1="1457.9" x2="700.4" y2="1457.9" stroke="#4b49e0" stroke-width="2.6"/>
<line x1="648.3" y1="1494.4" x2="700.4" y2="1494.4" stroke="#4b49e0" stroke-width="2.6" stroke-dasharray="9.2,2.8"/>
<rect x="577.6" y="1729.5" width="357.9" height="223.0999999999999" fill="#fff"/>
<clipPath id="ci"><rect x="577.6" y="1729.5" width="357.9" height="223.0999999999999"/></clipPath>
<path d="M577.6,1952.6 L579,1907 L584.7,1902.7 L591.4,1883.3 L918,1868.1 L918,1952.6 Z" fill="#ccccf8" clip-path="url(#ci)"/>
<path d="M579.0,1954.0 L580.9,1919.8 L584.7,1902.7 L589.5,1881.7 L591.4,1876.0 L591.4,1819.0 C591.8,1815.2 593.1,1801.2 593.9,1796.1 C594.7,1791.0 595.4,1790.2 596.2,1788.5 C597.1,1786.8 598.0,1785.9 599.0,1785.7 C600.0,1785.5 600.9,1786.8 601.9,1787.6 C602.9,1788.4 602.2,1789.9 604.7,1790.4 C607.2,1790.9 611.9,1790.7 617.1,1790.4 C622.3,1790.1 631.4,1789.1 636.1,1788.5 C640.9,1787.9 642.4,1787.7 645.6,1786.6 C648.8,1785.5 651.3,1783.7 655.1,1781.8 C658.9,1779.9 664.7,1777.1 668.5,1775.2 C672.3,1773.3 673.9,1771.7 678.0,1770.4 C682.1,1769.1 688.8,1768.5 693.2,1767.6 C697.6,1766.6 700.8,1766.1 704.6,1764.7 C708.4,1763.3 712.2,1760.5 716.0,1759.0 C719.8,1757.5 723.0,1756.8 727.5,1755.8 C732.0,1754.8 737.3,1753.9 742.7,1753.3 C748.1,1752.7 750.2,1752.4 759.8,1752.0 C769.3,1751.6 786.6,1751.4 800.0,1751.0 C813.4,1750.6 826.7,1750.2 840.0,1749.8 C853.3,1749.4 867.0,1748.9 880.0,1748.5 C893.0,1748.1 911.7,1747.8 918.0,1747.6" fill="none" stroke="#4b49e0" stroke-width="2.2" stroke-linejoin="round" clip-path="url(#ci)"/>
<rect x="577.60" y="1729.50" width="357.90" height="223.10" fill="none" stroke="#000" stroke-width="2.6"/>
<line x1="577.60" y1="1819.30" x2="581.60" y2="1819.30" stroke="#000" stroke-width="1.6"/>
<line x1="590.40" y1="1952.60" x2="590.40" y2="1948.60" stroke="#000" stroke-width="1.6"/>
<line x1="728.40" y1="1952.60" x2="728.40" y2="1948.60" stroke="#000" stroke-width="1.6"/>
<line x1="866.40" y1="1952.60" x2="866.40" y2="1948.60" stroke="#000" stroke-width="1.6"/>
<text x="69.45" y="583.60" font-size="36.5" textLength="43.50" lengthAdjust="spacingAndGlyphs" fill="#444444">0.0</text>
<text x="69.45" y="498.96" font-size="36.5" textLength="43.50" lengthAdjust="spacingAndGlyphs" fill="#444444">0.5</text>
<text x="67.40" y="414.33" font-size="36.5" fill="#444444">1.0</text>
<text x="67.40" y="329.69" font-size="36.5" fill="#444444">1.5</text>
<text x="68.45" y="245.06" font-size="36.5" textLength="44.54" lengthAdjust="spacingAndGlyphs" fill="#444444">2.0</text>
<text x="68.45" y="160.42" font-size="36.5" textLength="44.54" lengthAdjust="spacingAndGlyphs" fill="#444444">2.5</text>
<text x="68.45" y="75.79" font-size="36.5" textLength="44.54" lengthAdjust="spacingAndGlyphs" fill="#444444">3.0</text>
<text x="107.40" y="638.00" font-size="36.5" textLength="43.29" lengthAdjust="spacingAndGlyphs" fill="#444444">0.0</text>
<text x="221.22" y="638.00" font-size="36.5" textLength="43.29" lengthAdjust="spacingAndGlyphs" fill="#444444">0.2</text>
<text x="335.06" y="638.00" font-size="36.5" textLength="42.31" lengthAdjust="spacingAndGlyphs" fill="#444444">0.4</text>
<text x="448.88" y="638.00" font-size="36.5" textLength="42.31" lengthAdjust="spacingAndGlyphs" fill="#444444">0.6</text>
<text x="562.68" y="638.00" font-size="36.5" textLength="43.29" lengthAdjust="spacingAndGlyphs" fill="#444444">0.8</text>
<text x="674.46" y="638.00" font-size="36.5" fill="#444444">1.0</text>
<text x="788.28" y="638.00" font-size="36.5" fill="#444444">1.2</text>
<text x="902.18" y="638.00" font-size="36.5" textLength="44.32" lengthAdjust="spacingAndGlyphs" fill="#444444">1.4</text>
<text x="130.01" y="35.70" font-size="36.5" textLength="26.04" lengthAdjust="spacingAndGlyphs" fill="#444444">×</text>
<text x="158.45" y="32.80" font-size="36.5" textLength="32.28" lengthAdjust="spacingAndGlyphs" fill="#444444">10</text>
<text x="191.35" y="19.60" font-size="24.5" textLength="25.61" lengthAdjust="spacingAndGlyphs" fill="#444444">52</text>
<text x="523.20" y="679.30" font-size="36" style="font-style:italic" fill="#444444">θ</text>
<text x="551.50" y="680.30" font-size="41.3" fill="#444444">(</text>
<text x="566.50" y="679.30" font-size="36" fill="#444444">rad</text>
<text x="614.10" y="680.30" font-size="41.3" fill="#444444">)</text>
<text transform="translate(51.70,479.50) rotate(-90)" font-size="36" style="font-style:italic" textLength="26.49" lengthAdjust="spacingAndGlyphs" fill="#444444">L</text>
<text transform="translate(58.60,457.48) rotate(-90)" font-size="25" textLength="96.08" lengthAdjust="spacingAndGlyphs" fill="#444444">poynting</text>
<text transform="translate(52.70,350.15) rotate(-90)" font-size="41.3" fill="#444444">(</text>
<text transform="translate(51.70,335.09) rotate(-90)" font-size="36" textLength="44.71" lengthAdjust="spacingAndGlyphs" fill="#444444">erg</text>
<text transform="translate(58.70,286.70) rotate(-90)" font-size="50" fill="#444444">/</text>
<text transform="translate(51.70,271.69) rotate(-90)" font-size="36" textLength="15.30" lengthAdjust="spacingAndGlyphs" fill="#444444">s</text>
<text transform="translate(58.70,256.50) rotate(-90)" font-size="50" textLength="14.10" lengthAdjust="spacingAndGlyphs" fill="#444444">/</text>
<text transform="translate(51.70,240.28) rotate(-90)" font-size="36" textLength="76.02" lengthAdjust="spacingAndGlyphs" fill="#444444">angle</text>
<text transform="translate(52.70,164.90) rotate(-90)" font-size="41.3" fill="#444444">)</text>
<text x="555.10" y="79.00" font-size="24" style="font-style:italic" textLength="14.70" lengthAdjust="spacingAndGlyphs" fill="#444444">L</text>
<text x="570.01" y="82.00" font-size="16.8" textLength="66.38" lengthAdjust="spacingAndGlyphs" fill="#444444">Poynting</text>
<text x="638.00" y="81.80" font-size="27.6" fill="#444444">(</text>
<text x="646.50" y="79.00" font-size="24" style="font-style:italic" fill="#444444">θ</text>
<text x="657.40" y="81.30" font-size="27.6" fill="#444444">)</text>
<text x="57.35" y="1302.60" font-size="36.5" textLength="33.42" lengthAdjust="spacingAndGlyphs" fill="#444444">10</text>
<text x="92.90" y="1289.30" font-size="24.5" textLength="22.87" lengthAdjust="spacingAndGlyphs" fill="#444444">45</text>
<text x="57.35" y="1232.97" font-size="36.5" textLength="33.42" lengthAdjust="spacingAndGlyphs" fill="#444444">10</text>
<text x="92.90" y="1219.67" font-size="24.5" textLength="22.87" lengthAdjust="spacingAndGlyphs" fill="#444444">46</text>
<text x="57.35" y="1163.35" font-size="36.5" textLength="33.42" lengthAdjust="spacingAndGlyphs" fill="#444444">10</text>
<text x="92.90" y="1150.05" font-size="24.5" textLength="22.87" lengthAdjust="spacingAndGlyphs" fill="#444444">47</text>
<text x="57.35" y="1093.72" font-size="36.5" textLength="33.42" lengthAdjust="spacingAndGlyphs" fill="#444444">10</text>
<text x="92.90" y="1080.42" font-size="24.5" textLength="22.87" lengthAdjust="spacingAndGlyphs" fill="#444444">48</text>
<text x="57.35" y="1024.10" font-size="36.5" textLength="33.42" lengthAdjust="spacingAndGlyphs" fill="#444444">10</text>
<text x="92.90" y="1010.80" font-size="24.5" textLength="22.87" lengthAdjust="spacingAndGlyphs" fill="#444444">49</text>
<text x="57.35" y="954.47" font-size="36.5" textLength="33.42" lengthAdjust="spacingAndGlyphs" fill="#444444">10</text>
<text x="91.93" y="941.17" font-size="24.5" textLength="23.86" lengthAdjust="spacingAndGlyphs" fill="#444444">50</text>
<text x="57.35" y="884.85" font-size="36.5" textLength="33.42" lengthAdjust="spacingAndGlyphs" fill="#444444">10</text>
<text x="91.88" y="871.55" font-size="24.5" textLength="24.95" lengthAdjust="spacingAndGlyphs" fill="#444444">51</text>
<text x="57.35" y="815.22" font-size="36.5" textLength="33.42" lengthAdjust="spacingAndGlyphs" fill="#444444">10</text>
<text x="91.88" y="801.92" font-size="24.5" textLength="24.95" lengthAdjust="spacingAndGlyphs" fill="#444444">52</text>
<text x="57.35" y="745.60" font-size="36.5" textLength="33.42" lengthAdjust="spacingAndGlyphs" fill="#444444">10</text>
<text x="91.93" y="732.30" font-size="24.5" textLength="23.86" lengthAdjust="spacingAndGlyphs" fill="#444444">53</text>
<text x="124.43" y="1331.70" font-size="36.5" textLength="15.97" lengthAdjust="spacingAndGlyphs" fill="#444444">0</text>
<text x="242.93" y="1331.70" font-size="36.5" textLength="33.40" lengthAdjust="spacingAndGlyphs" fill="#444444">25</text>
<text x="370.49" y="1331.70" font-size="36.5" textLength="33.40" lengthAdjust="spacingAndGlyphs" fill="#444444">50</text>
<text x="498.05" y="1331.70" font-size="36.5" textLength="33.40" lengthAdjust="spacingAndGlyphs" fill="#444444">75</text>
<text x="617.51" y="1331.70" font-size="36.5" textLength="48.95" lengthAdjust="spacingAndGlyphs" fill="#444444">100</text>
<text x="745.07" y="1331.70" font-size="36.5" textLength="48.95" lengthAdjust="spacingAndGlyphs" fill="#444444">125</text>
<text x="872.63" y="1331.70" font-size="36.5" textLength="48.95" lengthAdjust="spacingAndGlyphs" fill="#444444">150</text>
<text x="1000.19" y="1331.70" font-size="36.5" textLength="48.95" lengthAdjust="spacingAndGlyphs" fill="#444444">175</text>
<text x="455.83" y="1377.50" font-size="42" style="font-style:italic" textLength="12.10" lengthAdjust="spacingAndGlyphs" fill="#444444">t</text>
<text x="482.05" y="1378.20" font-size="42" fill="#444444">-</text>
<text x="510.12" y="1377.50" font-size="42" style="font-style:italic" textLength="12.73" lengthAdjust="spacingAndGlyphs" fill="#444444">t</text>
<text x="526.62" y="1384.20" font-size="29.5" textLength="81.18" lengthAdjust="spacingAndGlyphs" fill="#444444">merger</text>
<text x="622.50" y="1378.50" font-size="48.2" fill="#444444">(</text>
<text x="639.52" y="1377.50" font-size="42" textLength="48.18" lengthAdjust="spacingAndGlyphs" fill="#444444">ms</text>
<text x="686.90" y="1378.50" font-size="48.2" fill="#444444">)</text>
<text transform="translate(38.00,1116.50) rotate(-90)" font-size="42" style="font-style:italic" textLength="29.48" lengthAdjust="spacingAndGlyphs" fill="#444444">L</text>
<text transform="translate(44.40,1088.52) rotate(-90)" font-size="29.5" textLength="46.94" lengthAdjust="spacingAndGlyphs" fill="#444444">Poy</text>
<text transform="translate(39.00,1026.00) rotate(-90)" font-size="48.2" fill="#444444">(</text>
<text transform="translate(38.00,1011.39) rotate(-90)" font-size="42" fill="#444444">erg</text>
<text transform="translate(46.00,955.00) rotate(-90)" font-size="58" textLength="15.02" lengthAdjust="spacingAndGlyphs" fill="#444444">/</text>
<text transform="translate(38.00,939.38) rotate(-90)" font-size="42" textLength="15.35" lengthAdjust="spacingAndGlyphs" fill="#444444">s</text>
<text transform="translate(39.00,924.40) rotate(-90)" font-size="48.2" fill="#444444">)</text>
<text x="563.10" y="1137.80" font-size="36.5" style="font-style:italic" textLength="21.22" lengthAdjust="spacingAndGlyphs" fill="#444444">L</text>
<text x="583.72" y="1143.20" font-size="25.5" textLength="43.03" lengthAdjust="spacingAndGlyphs" fill="#444444">Poy</text>
<text x="563.10" y="1193.70" font-size="36.5" style="font-style:italic" textLength="21.22" lengthAdjust="spacingAndGlyphs" fill="#444444">L</text>
<text x="583.70" y="1199.10" font-size="25.5" textLength="43.76" lengthAdjust="spacingAndGlyphs" fill="#444444">Poy</text>
<text x="627.40" y="1199.10" font-size="25.5" fill="#444444">,</text>
<text x="633.80" y="1199.10" font-size="25.5" style="font-style:italic" fill="#444444">θ</text>
<text x="645.49" y="1202.00" font-size="33" textLength="19.62" lengthAdjust="spacingAndGlyphs" fill="#444444">&lt;</text>
<text x="663.30" y="1199.10" font-size="25.5" textLength="26.78" lengthAdjust="spacingAndGlyphs" fill="#444444">12</text>
<text x="690.20" y="1199.50" font-size="25.5" fill="#444444">°</text>
<text x="714.10" y="1193.80" font-size="36.5" textLength="24.71" lengthAdjust="spacingAndGlyphs" fill="#444444">×</text>
<text x="748.26" y="1194.20" font-size="36.5" textLength="17.73" lengthAdjust="spacingAndGlyphs" fill="#444444">2</text>
<text x="766.20" y="1201.00" font-size="50.8" textLength="11.70" lengthAdjust="spacingAndGlyphs" fill="#444444">/</text>
<text x="782.20" y="1195.00" font-size="41.9" fill="#444444">(</text>
<text x="796.20" y="1194.20" font-size="36.5" fill="#444444">1</text>
<text x="823.04" y="1194.50" font-size="36.5" textLength="26.41" lengthAdjust="spacingAndGlyphs" fill="#444444">−</text>
<text x="860.08" y="1194.20" font-size="36.5" textLength="44.85" lengthAdjust="spacingAndGlyphs" fill="#444444">cos</text>
<text x="901.10" y="1195.00" font-size="41.9" fill="#444444">(</text>
<text x="917.72" y="1194.20" font-size="36.5" textLength="32.62" lengthAdjust="spacingAndGlyphs" fill="#444444">12</text>
<text x="949.50" y="1192.00" font-size="36.5" fill="#444444">°</text>
<text x="963.00" y="1195.00" font-size="41.9" fill="#444444">)</text>
<text x="977.30" y="1195.00" font-size="41.9" fill="#444444">)</text>
<text x="561.84" y="1250.00" font-size="36.5" textLength="27.17" lengthAdjust="spacingAndGlyphs" fill="#444444">Δ</text>
<text x="589.70" y="1250.00" font-size="36.5" style="font-style:italic" textLength="19.24" lengthAdjust="spacingAndGlyphs" fill="#444444">x</text>
<text x="618.80" y="1253.00" font-size="36.5" textLength="28.83" lengthAdjust="spacingAndGlyphs" fill="#444444">=</text>
<text x="657.30" y="1250.00" font-size="36.5" textLength="51.96" lengthAdjust="spacingAndGlyphs" fill="#444444">200</text>
<text x="716.45" y="1250.00" font-size="36.5" textLength="29.77" lengthAdjust="spacingAndGlyphs" fill="#444444">m</text>
<text x="68.13" y="1439.90" font-size="36.5" textLength="33.65" lengthAdjust="spacingAndGlyphs" fill="#444444">10</text>
<text x="102.00" y="1427.40" font-size="24.5" fill="#444444">0</text>
<text x="48.59" y="1581.17" font-size="36.5" textLength="32.96" lengthAdjust="spacingAndGlyphs" fill="#444444">10</text>
<text x="83.21" y="1570.28" font-size="24.5" textLength="16.48" lengthAdjust="spacingAndGlyphs" fill="#444444">−</text>
<text x="101.15" y="1567.58" font-size="24.5" fill="#444444">1</text>
<text x="48.59" y="1720.65" font-size="36.5" textLength="32.96" lengthAdjust="spacingAndGlyphs" fill="#444444">10</text>
<text x="83.21" y="1709.75" font-size="24.5" textLength="16.48" lengthAdjust="spacingAndGlyphs" fill="#444444">−</text>
<text x="101.00" y="1707.05" font-size="24.5" fill="#444444">2</text>
<text x="48.59" y="1860.12" font-size="36.5" textLength="32.96" lengthAdjust="spacingAndGlyphs" fill="#444444">10</text>
<text x="83.21" y="1849.23" font-size="24.5" textLength="16.48" lengthAdjust="spacingAndGlyphs" fill="#444444">−</text>
<text x="101.00" y="1846.53" font-size="24.5" fill="#444444">3</text>
<text x="48.59" y="1999.60" font-size="36.5" textLength="32.96" lengthAdjust="spacingAndGlyphs" fill="#444444">10</text>
<text x="83.21" y="1988.70" font-size="24.5" textLength="16.48" lengthAdjust="spacingAndGlyphs" fill="#444444">−</text>
<text x="101.00" y="1986.00" font-size="24.5" fill="#444444">4</text>
<text x="170.62" y="2026.80" font-size="36.5" textLength="15.97" lengthAdjust="spacingAndGlyphs" fill="#444444">0</text>
<text x="282.59" y="2026.80" font-size="36.5" textLength="32.96" lengthAdjust="spacingAndGlyphs" fill="#444444">25</text>
<text x="403.39" y="2026.80" font-size="36.5" textLength="32.96" lengthAdjust="spacingAndGlyphs" fill="#444444">50</text>
<text x="524.19" y="2026.80" font-size="36.5" textLength="32.96" lengthAdjust="spacingAndGlyphs" fill="#444444">75</text>
<text x="636.78" y="2026.80" font-size="36.5" textLength="48.73" lengthAdjust="spacingAndGlyphs" fill="#444444">100</text>
<text x="757.58" y="2026.80" font-size="36.5" textLength="48.73" lengthAdjust="spacingAndGlyphs" fill="#444444">125</text>
<text x="878.38" y="2026.80" font-size="36.5" textLength="48.73" lengthAdjust="spacingAndGlyphs" fill="#444444">150</text>
<text x="999.18" y="2026.80" font-size="36.5" textLength="48.73" lengthAdjust="spacingAndGlyphs" fill="#444444">175</text>
<text x="469.50" y="2069.30" font-size="36" style="font-style:italic" fill="#444444">t</text>
<text x="491.45" y="2070.50" font-size="36" fill="#444444">-</text>
<text x="515.02" y="2069.30" font-size="36" style="font-style:italic" textLength="12.91" lengthAdjust="spacingAndGlyphs" fill="#444444">t</text>
<text x="530.25" y="2072.70" font-size="25" textLength="73.91" lengthAdjust="spacingAndGlyphs" fill="#444444">merger</text>
<text x="614.65" y="2071.00" font-size="41.3" fill="#444444">(</text>
<text x="630.85" y="2069.30" font-size="36" textLength="39.70" lengthAdjust="spacingAndGlyphs" fill="#444444">ms</text>
<text x="672.75" y="2071.00" font-size="41.3" fill="#444444">)</text>
<text transform="translate(30.30,1786.50) rotate(-90)" font-size="36.5" style="font-style:italic" textLength="31.93" lengthAdjust="spacingAndGlyphs" fill="#444444">M</text>
<text transform="translate(35.00,1752.01) rotate(-90)" font-size="25.5" textLength="30.16" lengthAdjust="spacingAndGlyphs" fill="#444444">eje</text>
<text transform="translate(31.20,1709.70) rotate(-90)" font-size="41.9" fill="#444444">(</text>
<text transform="translate(30.30,1694.80) rotate(-90)" font-size="36.5" style="font-style:italic" textLength="31.93" lengthAdjust="spacingAndGlyphs" fill="#444444">M</text>
<text transform="translate(31.20,1642.05) rotate(-90)" font-size="41.9" fill="#444444">)</text>
<text x="719.86" y="1467.40" font-size="23.5" style="font-style:italic" textLength="15.74" lengthAdjust="spacingAndGlyphs" fill="#444444">h</text>
<text x="734.45" y="1467.40" font-size="23.5" style="font-style:italic" fill="#444444">u</text>
<text x="747.35" y="1471.20" font-size="16.5" style="font-style:italic" fill="#444444">t</text>
<text x="761.99" y="1470.00" font-size="31" textLength="15.86" lengthAdjust="spacingAndGlyphs" fill="#444444">&lt;</text>
<text x="787.54" y="1467.00" font-size="23.5" textLength="18.09" lengthAdjust="spacingAndGlyphs" fill="#444444">−</text>
<text x="804.25" y="1467.40" font-size="23.5" style="font-style:italic" textLength="15.86" lengthAdjust="spacingAndGlyphs" fill="#444444">h</text>
<text x="819.80" y="1471.20" font-size="16.5" textLength="28.24" lengthAdjust="spacingAndGlyphs" fill="#444444">min</text>
<text x="848.65" y="1467.40" font-size="23.5" fill="#444444">,</text>
<text x="864.31" y="1466.90" font-size="23.5" textLength="19.55" lengthAdjust="spacingAndGlyphs" fill="#444444">Δ</text>
<text x="885.00" y="1466.90" font-size="23.5" style="font-style:italic" textLength="12.42" lengthAdjust="spacingAndGlyphs" fill="#444444">x</text>
<text x="905.42" y="1468.00" font-size="23.5" textLength="18.33" lengthAdjust="spacingAndGlyphs" fill="#444444">=</text>
<text x="932.26" y="1466.90" font-size="23.5" textLength="41.88" lengthAdjust="spacingAndGlyphs" fill="#444444">12.5</text>
<text x="981.86" y="1466.90" font-size="23.5" textLength="18.93" lengthAdjust="spacingAndGlyphs" fill="#444444">m</text>
<text x="719.99" y="1502.40" font-size="23.5" textLength="18.27" lengthAdjust="spacingAndGlyphs" fill="#444444">Δ</text>
<text x="739.40" y="1502.40" font-size="23.5" style="font-style:italic" textLength="12.53" lengthAdjust="spacingAndGlyphs" fill="#444444">x</text>
<text x="760.14" y="1503.50" font-size="23.5" textLength="18.09" lengthAdjust="spacingAndGlyphs" fill="#444444">=</text>
<text x="785.57" y="1502.40" font-size="23.5" textLength="36.32" lengthAdjust="spacingAndGlyphs" fill="#444444">200</text>
<text x="831.33" y="1502.40" font-size="23.5" textLength="17.74" lengthAdjust="spacingAndGlyphs" fill="#444444">m</text>
<text x="507.78" y="1832.60" font-size="36.5" textLength="33.08" lengthAdjust="spacingAndGlyphs" fill="#444444">10</text>
<text x="542.96" y="1821.10" font-size="24.5" textLength="18.55" lengthAdjust="spacingAndGlyphs" fill="#444444">−</text>
<text x="561.55" y="1819.40" font-size="24.5" fill="#444444">4</text>
<text x="494.61" y="1967.30" font-size="36.5" textLength="33.99" lengthAdjust="spacingAndGlyphs" fill="#444444">10</text>
<text x="530.44" y="1954.60" font-size="24.5" textLength="16.02" lengthAdjust="spacingAndGlyphs" fill="#444444">−</text>
<text x="550.92" y="1952.60" font-size="24.5" textLength="21.83" lengthAdjust="spacingAndGlyphs" fill="#444444">10</text>
<text x="583.82" y="1981.20" font-size="36.5" textLength="15.17" lengthAdjust="spacingAndGlyphs" fill="#444444">0</text>
<text x="702.07" y="1981.20" font-size="36.5" textLength="51.68" lengthAdjust="spacingAndGlyphs" fill="#444444">100</text>
<text x="839.85" y="1981.20" font-size="36.5" textLength="50.67" lengthAdjust="spacingAndGlyphs" fill="#444444">200</text>
<circle cx="29.0" cy="1651.2" r="8.0" fill="none" stroke="#444444" stroke-width="1.3"/>
<circle cx="29.0" cy="1651.2" r="1.9" fill="#444444"/>
</svg></body></html>
